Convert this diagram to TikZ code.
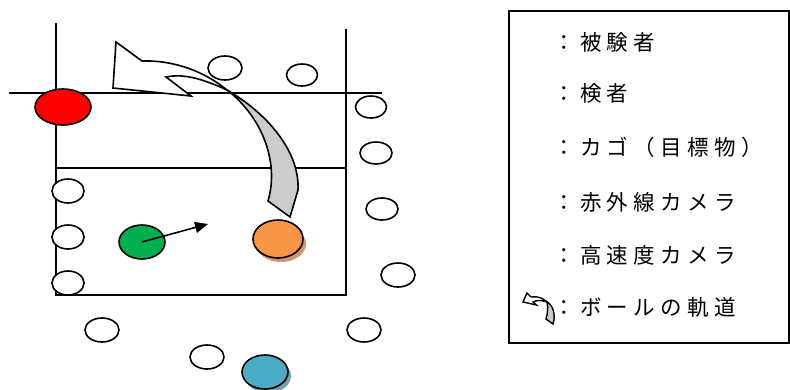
\documentclass[tikz,border=0pt]{standalone}
\usepackage{fontspec}
\newfontfamily\jpfont[LetterSpace=25]{Noto Sans CJK JP}
\usetikzlibrary{shapes.geometric, arrows.meta, positioning}

\definecolor{subjred}{RGB}{255,0,0}
\definecolor{examgreen}{RGB}{0,176,80}
\definecolor{basketor}{RGB}{247,150,70}
\definecolor{basketsh}{RGB}{205,150,110}
\definecolor{hscblue}{RGB}{75,172,198}
\definecolor{hscsh}{RGB}{120,160,170}
\definecolor{trajgray}{RGB}{204,204,204}

\tikzset{
    court/.style={line width=1.6pt},
    spot/.style={ellipse, draw, line width=1.6pt, fill=white, inner sep=0pt,
                 minimum width=34pt, minimum height=24pt},
    shadowspot/.style={ellipse, inner sep=0pt},
    trajline/.style={line width=1.6pt, line join=miter},
    legtext/.style={anchor=west, inner sep=0pt, font=\jpfont\fontsize{21.5pt}{25pt}\selectfont}
}

\begin{document}
\begin{tikzpicture}[x=1pt, y=-1pt]
\useasboundingbox (0,0) rectangle (790,389);

% court lines
\coordinate (tl) at (56,23);
\coordinate (tr) at (346,29);
\coordinate (bl) at (56,295);
\coordinate (br) at (346,295);
\coordinate (ml) at (56,168);
\coordinate (mr) at (346,168);
\coordinate (nl) at (9,92.7);
\coordinate (nr) at (382,92.7);
\draw[court] (tl) -- (bl) -- (br) -- (tr);
\draw[court] (ml) -- (mr);
\draw[court] (nl) -- (nr);

% infrared cameras
\node[spot] (ir1) at (225,68) {};
\node[spot, minimum width=31pt, minimum height=22pt] (ir2) at (302,75) {};
\node[spot, minimum width=31pt, minimum height=22pt] (ir3) at (371,107) {};
\node[spot, minimum width=32pt, minimum height=22pt] (ir4) at (376,153) {};
\node[spot, minimum width=32pt, minimum height=22pt] (ir5) at (382,209) {};
\node[spot] (ir6) at (398,275) {};
\node[spot, minimum width=32pt] (ir7) at (68,191) {};
\node[spot, minimum width=32pt] (ir8) at (68,237) {};
\node[spot, minimum width=32pt] (ir9) at (68,283) {};
\node[spot] (ir10) at (102,330) {};
\node[spot] (ir11) at (364,330) {};
\node[spot] (ir12) at (207,357) {};

% subject, examiner
\node[spot, fill=subjred, minimum width=56pt, minimum height=36pt] (subject) at (63,107) {};
\node[spot, fill=examgreen, minimum width=46pt, minimum height=34pt] (examiner) at (142,242) {};
\coordinate (aim) at (208,224);
\draw[line width=1.6pt, -{Triangle[length=13pt, width=11pt]}] (examiner.center) -- (aim);

% basket
\node[shadowspot, fill=basketsh, minimum width=50pt, minimum height=36pt] (basketshadow) at (281,244) {};
\node[spot, fill=basketor, minimum width=50pt, minimum height=38pt] (basket) at (278,239) {};

% high-speed camera
\node[shadowspot, fill=hscsh, minimum width=46pt, minimum height=34pt] (hscshadow) at (268,376) {};
\node[spot, fill=hscblue, minimum width=46pt, minimum height=34pt] (hsc) at (265,372) {};

% ball trajectory
\coordinate (twist) at (227,90);
\draw[trajline, fill=trajgray]
    (twist) .. controls (265,112) and (300,150) .. (298,190) -- (290,217)
    -- (268,201) .. controls (280,160) and (260,115) .. (twist) -- cycle;
\draw[trajline, fill=white]
    (116,42) -- (142,61) .. controls (175,60) and (205,72) .. (twist)
    .. controls (205,80) and (185,73) .. (166,77) -- (191,96) -- (113,88) -- cycle;

% legend
\node[draw, line width=1.6pt, minimum width=280pt, minimum height=332pt, anchor=north west] (legend) at (508,10) {};
\node[legtext] (leg1) at (553,42) {：被験者};
\node[legtext] (leg2) at (553,93) {：検者};
\node[legtext] (leg3) at (553,147) {：カゴ（目標物）};
\node[legtext] (leg4) at (553,202) {：赤外線カメラ};
\node[legtext] (leg5) at (553,255) {：高速度カメラ};
\node[legtext] (leg6) at (553,307) {：ボールの軌道};

% legend icon
\coordinate (ltwist) at (547,302);
\draw[line width=1.4pt, line join=miter, fill=trajgray]
    (ltwist) .. controls (553,305) and (556,315) .. (553,324) -- (546,319)
    .. controls (548,313) and (548,307) .. (ltwist) -- cycle;
\draw[line width=1.4pt, line join=miter, fill=white]
    (527,293) -- (531,297) .. controls (538,296) and (543,298) .. (ltwist)
    .. controls (541,300) and (537,300) .. (533,302) -- (536.5,305) -- (523,302) -- cycle;
\end{tikzpicture}
\end{document}
